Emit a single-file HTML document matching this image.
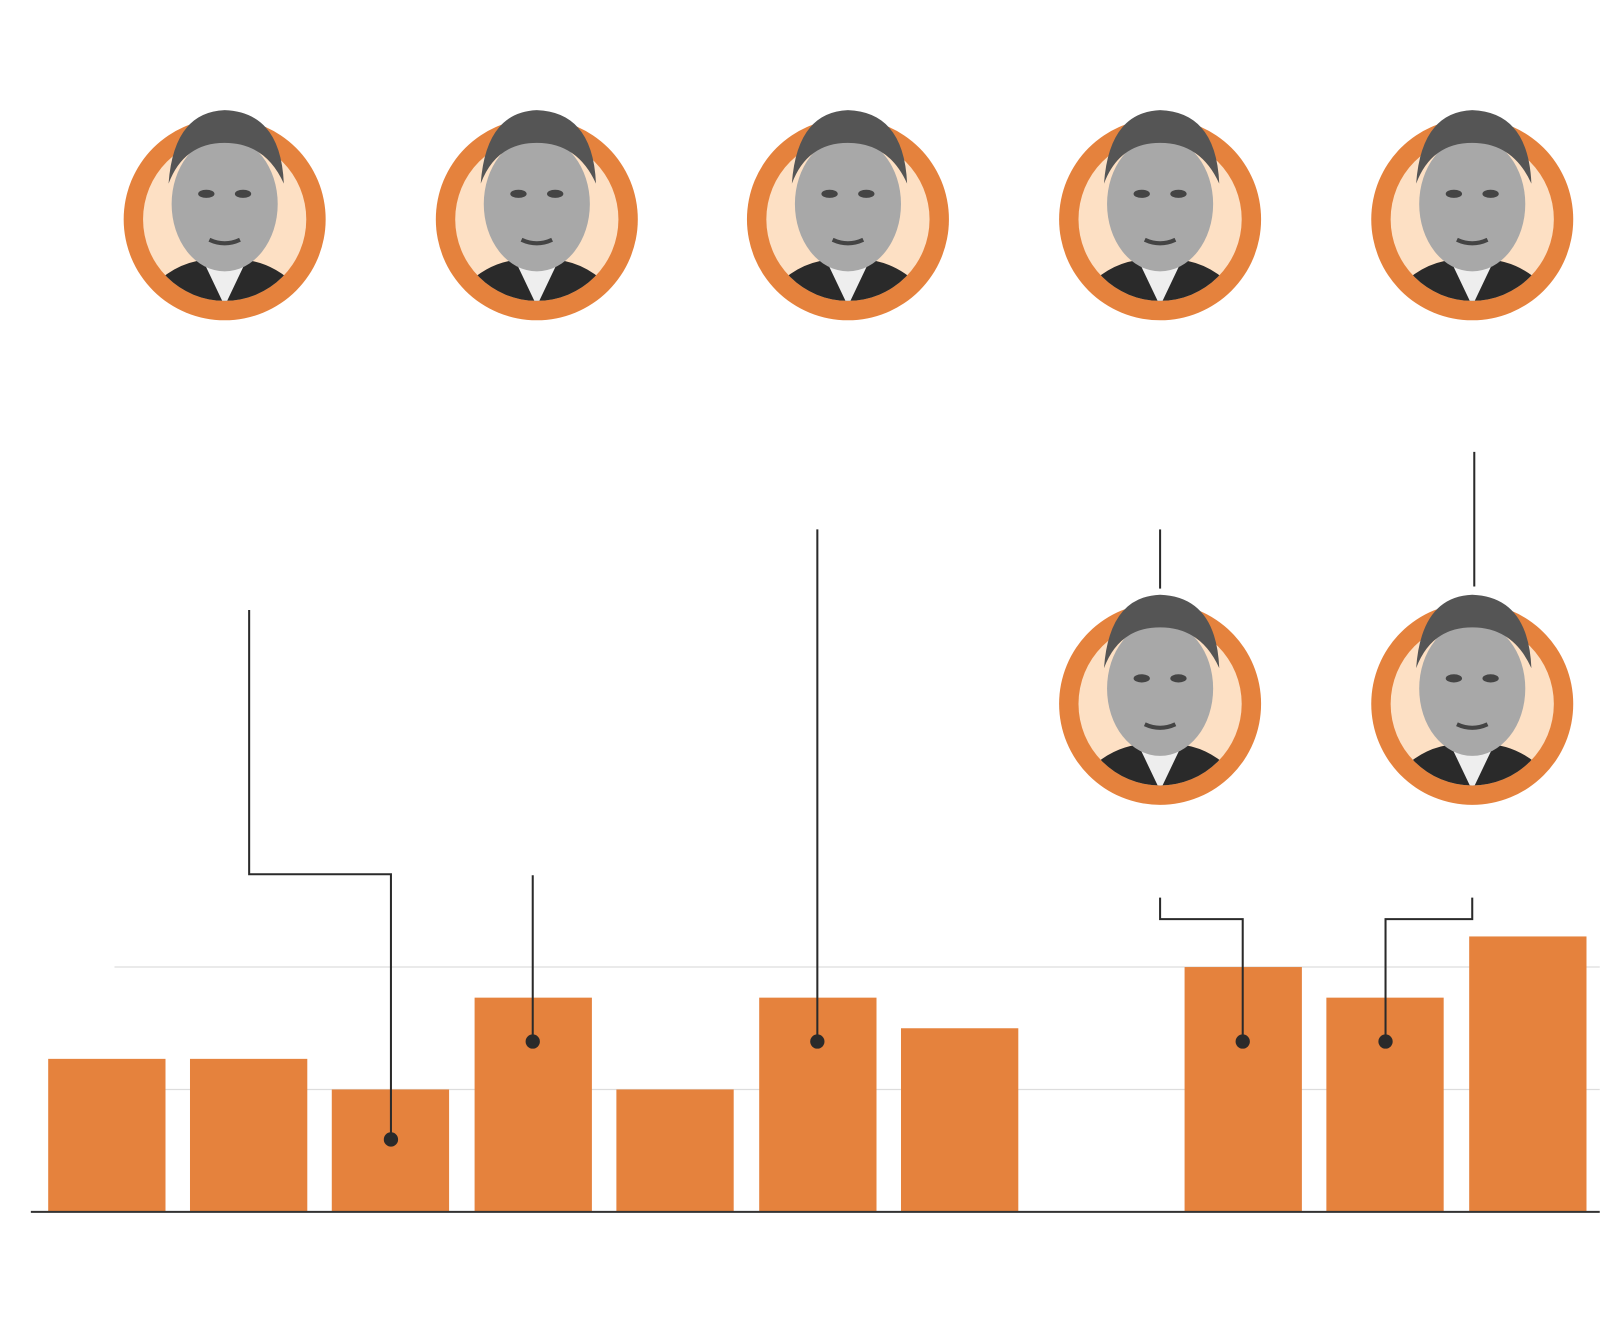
<!DOCTYPE html>
<html><head><style>html,body{margin:0;padding:0;background:#fff}svg{display:block}</style></head>
<body>
<svg width="1600" height="1320" viewBox="0 0 1568 1294" xmlns="http://www.w3.org/2000/svg">
<defs>
<clipPath id="cb"><rect x="-120" y="-130" width="240" height="210"/></clipPath>
<g id="face">
  <circle r="99" fill="#e5823d"/>
  <circle r="80" fill="#fde0c4"/>
  <g clip-path="url(#cb)">
  <clipPath id="ci"><circle r="80"/></clipPath>
  </g>
</g>
<g id="person">
  <path d="M-70 60 Q-40 30 0 35 Q40 30 70 60 L70 85 L-70 85 Z" fill="#2a2a2a"/>
  <path d="M-20 38 L0 80 L20 38 Z" fill="#eee"/>
  <ellipse cx="0" cy="-20" rx="52" ry="66" fill="#a8a8a8"/>
  <path d="M-55 -40 Q-50 -110 0 -112 Q55 -110 58 -40 Q40 -80 0 -80 Q-40 -80 -55 -40 Z" fill="#555"/>
  <ellipse cx="-18" cy="-30" rx="8" ry="4" fill="#444"/>
  <ellipse cx="18" cy="-30" rx="8" ry="4" fill="#444"/>
  <path d="M-15 15 Q0 22 15 15" stroke="#444" stroke-width="4" fill="none"/>
</g>
</defs>
<g fill="none" stroke="#ddd" stroke-width="1.2">
<line x1="112" y1="948" x2="1568" y2="948"/>
<line x1="112" y1="1068" x2="1568" y2="1068"/>
</g>
<g fill="#e5823d">
<rect x="47" y="1038" width="115" height="150"/>
<rect x="186" y="1038" width="115" height="150"/>
<rect x="325" y="1068" width="115" height="120"/>
<rect x="465" y="978" width="115" height="210"/>
<rect x="604" y="1068" width="115" height="120"/>
<rect x="744" y="978" width="115" height="210"/>
<rect x="883" y="1008" width="115" height="180"/>
<rect x="1161" y="948" width="115" height="240"/>
<rect x="1300" y="978" width="115" height="210"/>
<rect x="1440" y="918" width="115" height="270"/>
</g>
<line x1="30" y1="1188" x2="1568" y2="1188" stroke="#333" stroke-width="2"/>
<g fill="none" stroke="#2a2a2a" stroke-width="2">
<path d="M244 598 V857 H383 V1117"/>
<path d="M522 858 V1021"/>
<path d="M801 519 V1021"/>
<path d="M1137 519 V577"/>
<path d="M1445 443 V575"/>
<path d="M1137 880 V901 H1218 V1021"/>
<path d="M1443 880 V901 H1358 V1021"/>
</g>
<g fill="#2a2a2a">
<circle cx="383" cy="1117" r="7"/><circle cx="522" cy="1021" r="7"/><circle cx="801" cy="1021" r="7"/>
<circle cx="1218" cy="1021" r="7"/><circle cx="1358" cy="1021" r="7"/>
</g>
<clipPath id="c1"><path d="M-200 -200 H200 V0 H80 A80 80 0 0 1 -80 0 H-200 Z"/></clipPath>
<g transform="translate(220,215)"><circle r="99" fill="#e5823d"/><circle r="80" fill="#fde0c4"/><g clip-path="url(#c1)"><use href="#person" transform="translate(0,5)"/></g></g>
<g transform="translate(526,215)"><circle r="99" fill="#e5823d"/><circle r="80" fill="#fde0c4"/><g clip-path="url(#c1)"><use href="#person" transform="translate(0,5)"/></g></g>
<g transform="translate(831,215)"><circle r="99" fill="#e5823d"/><circle r="80" fill="#fde0c4"/><g clip-path="url(#c1)"><use href="#person" transform="translate(0,5)"/></g></g>
<g transform="translate(1137,215)"><circle r="99" fill="#e5823d"/><circle r="80" fill="#fde0c4"/><g clip-path="url(#c1)"><use href="#person" transform="translate(0,5)"/></g></g>
<g transform="translate(1443,215)"><circle r="99" fill="#e5823d"/><circle r="80" fill="#fde0c4"/><g clip-path="url(#c1)"><use href="#person" transform="translate(0,5)"/></g></g>
<g transform="translate(1137,690)"><circle r="99" fill="#e5823d"/><circle r="80" fill="#fde0c4"/><g clip-path="url(#c1)"><use href="#person" transform="translate(0,5)"/></g></g>
<g transform="translate(1443,690)"><circle r="99" fill="#e5823d"/><circle r="80" fill="#fde0c4"/><g clip-path="url(#c1)"><use href="#person" transform="translate(0,5)"/></g></g>
</svg>
</body></html>
